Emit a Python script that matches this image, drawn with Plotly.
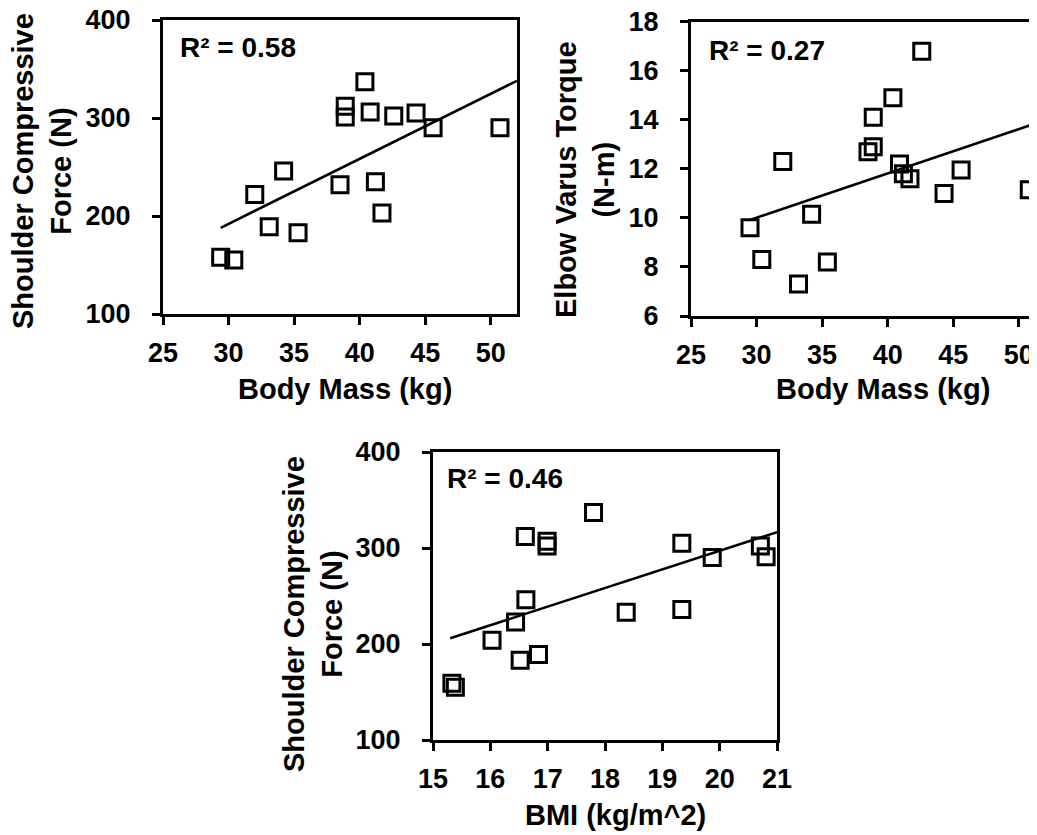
import plotly.graph_objects as go

# ---------------- data ----------------
body_mass = [29.4, 30.4, 32.0, 33.1, 34.2, 35.3, 38.5, 38.9, 38.9, 40.4,
             40.8, 41.2, 41.7, 42.6, 44.3, 45.6, 50.7]
shoulder_force_mass = [158, 155, 222, 189, 246, 183, 232, 312, 301, 337,
                       306, 235, 203, 302, 305, 290, 290]

body_mass2 = [29.5, 30.4, 32.0, 33.2, 34.2, 35.4, 38.5, 38.9, 38.9, 40.4,
              40.9, 41.2, 41.7, 42.6, 44.3, 45.6, 50.8]
elbow_torque = [9.6, 8.3, 12.3, 7.3, 10.15, 8.2, 12.7, 12.9, 14.1, 14.9,
                12.2, 11.8, 11.6, 16.8, 11.0, 11.95, 11.15]

bmi = [15.33, 15.39, 16.03, 16.44, 16.52, 16.61, 16.62, 16.84, 16.99, 16.99,
       17.8, 18.37, 19.34, 19.34, 19.87, 20.71, 20.81]
shoulder_force_bmi = [159, 155, 204, 223, 183, 312, 246, 189, 307, 302,
                      337, 233, 305, 236, 290, 302, 291]

# trend lines (end points)
trend1_x, trend1_y = [29.4, 52.0], [188, 338]
trend2_x, trend2_y = [29.5, 52.0], [9.92, 13.98]
trend3_x, trend3_y = [15.3, 21.0], [206, 316.5]

r2_labels = ["R² = 0.58", "R² = 0.27", "R² = 0.46"]
x_titles = ["Body Mass (kg)", "Body Mass (kg)", "BMI (kg/m^2)"]
y_titles = ["Shoulder Compressive<br>Force (N)", "Elbow Varus Torque<br>(N-m)",
            "Shoulder Compressive<br>Force (N)"]

# ---------------- layout helpers ----------------
W, H = 1037, 835
OFF = 8  # page body margin
FONT = "Liberation Sans"


def px_x(p):
    return (p - OFF) / W


def px_y(p):
    return 1 - (p - OFF) / H


fig = go.Figure()

marker = dict(symbol="square-open", size=16, color="black", line=dict(width=3, color="black"))
line = dict(color="black", width=2.5)

fig.add_trace(go.Scatter(x=body_mass, y=shoulder_force_mass, mode="markers", marker=marker,
                         xaxis="x", yaxis="y", cliponaxis=False, showlegend=False))
fig.add_trace(go.Scatter(x=trend1_x, y=trend1_y, mode="lines", line=line,
                         xaxis="x", yaxis="y", showlegend=False))
fig.add_trace(go.Scatter(x=body_mass2, y=elbow_torque, mode="markers", marker=marker,
                         xaxis="x2", yaxis="y2", cliponaxis=False, showlegend=False))
fig.add_trace(go.Scatter(x=trend2_x, y=trend2_y, mode="lines", line=line,
                         xaxis="x2", yaxis="y2", showlegend=False))
fig.add_trace(go.Scatter(x=bmi, y=shoulder_force_bmi, mode="markers", marker=marker,
                         xaxis="x3", yaxis="y3", cliponaxis=False, showlegend=False))
fig.add_trace(go.Scatter(x=trend3_x, y=trend3_y, mode="lines", line=line,
                         xaxis="x3", yaxis="y3", showlegend=False))

tickfont = dict(family=FONT, size=27, color="black", weight="bold")


def ax(domain, rng, dtick, anchor, mirror=True, standoff=14):
    return dict(domain=domain, range=rng, dtick=dtick, tick0=rng[0], anchor=anchor,
                showline=True, linecolor="black", linewidth=3, mirror=mirror,
                ticks="outside", ticklen=8, tickwidth=2.5, tickcolor="black",
                showgrid=False, zeroline=False, tickfont=tickfont, automargin=False,
                ticklabelstandoff=standoff, ticklabeloverflow="allow", fixedrange=True)


fig.update_layout(
    width=W, height=H, margin=dict(l=0, r=0, t=0, b=0, autoexpand=False),
    paper_bgcolor="white", plot_bgcolor="white", showlegend=False,
    xaxis=ax([px_x(163), px_x(517)], [25, 52], 5, "y", standoff=5),
    yaxis=ax([px_y(314), px_y(20)], [100, 400], 100, "x", standoff=16),
    xaxis2=ax([px_x(691), 1.0], [25, 52], 5, "y2", standoff=5),
    yaxis2=ax([px_y(316), px_y(21.7)], [6, 18], 2, "x2", mirror=False, standoff=16),
    xaxis3=ax([px_x(433), px_x(777)], [15, 21], 1, "y3", standoff=5),
    yaxis3=ax([px_y(740), px_y(452)], [100, 400], 100, "x3", standoff=16),
)

title_font = dict(family=FONT, size=29, color="black", weight="bold")
r2_font = dict(family=FONT, size=28, color="black", weight="bold")

annotations = []
# R² labels
for txt, (x, y) in zip(r2_labels, [(178, 47), (707, 50), (445, 478)]):
    annotations.append(dict(text=txt, x=px_x(x), y=px_y(y), xref="paper", yref="paper",
                            xanchor="left", yanchor="middle", showarrow=False, font=r2_font))
# x titles
for txt, (x, y) in zip(x_titles, [(345, 389), (883, 389), (615, 815)]):
    annotations.append(dict(text=txt, x=px_x(x), y=px_y(y), xref="paper", yref="paper",
                            xanchor="center", yanchor="middle", showarrow=False, font=title_font))
# y titles
for txt, (x, y) in zip(y_titles, [(42, 171), (585, 180), (313, 614)]):
    annotations.append(dict(text=txt, x=px_x(x), y=px_y(y), xref="paper", yref="paper",
                            xanchor="center", yanchor="middle", showarrow=False,
                            textangle=-90, font=title_font))

fig.update_layout(annotations=annotations)

fig.write_html("out.html")
